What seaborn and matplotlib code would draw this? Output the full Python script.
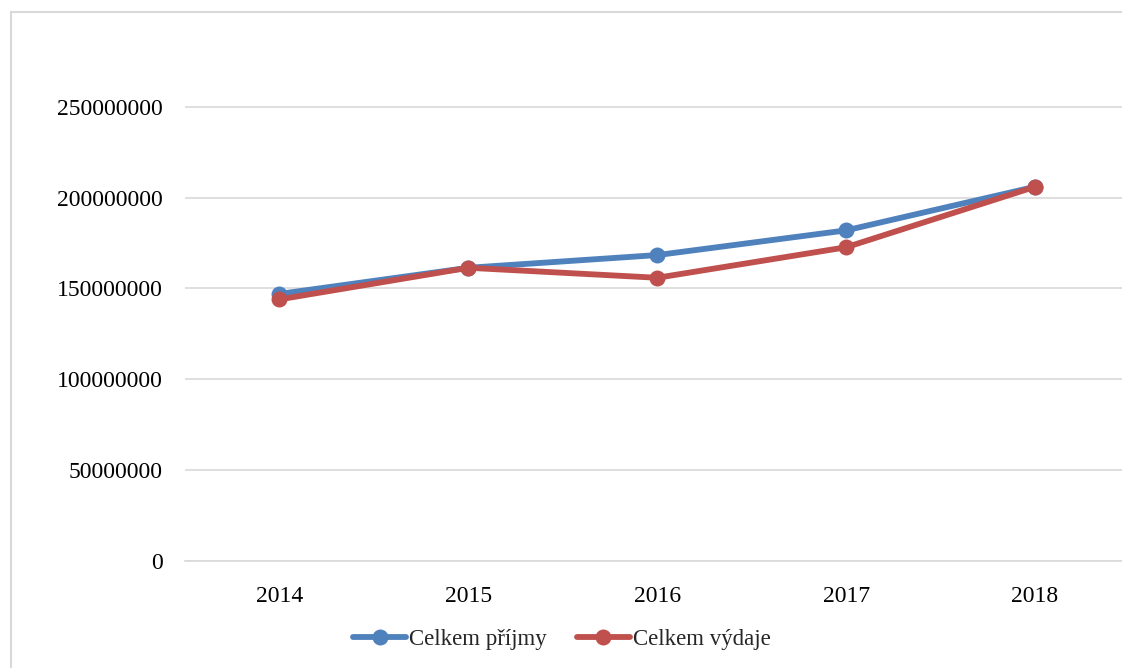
import pandas as pd
import matplotlib
matplotlib.use('Agg')
import matplotlib.pyplot as plt
import seaborn as sns
from matplotlib.patches import Rectangle

# Data
years = [2014, 2015, 2016, 2017, 2018]
prijmy = [146900000, 161300000, 168300000, 181900000, 205900000]
vydaje = [143900000, 161300000, 155800000, 172600000, 205900000]
series_names = ['Celkem příjmy', 'Celkem výdaje']
y_ticks = [0, 50000000, 100000000, 150000000, 200000000, 250000000]

df = pd.DataFrame({
    'year': years * 2,
    'value': prijmy + vydaje,
    'series': [series_names[0]] * len(years) + [series_names[1]] * len(years),
})

sns.set_theme(style='white')
plt.rcParams['font.family'] = ['Liberation Serif', 'DejaVu Serif']
plt.rcParams['font.size'] = 17

W, H = 1122, 668
fig = plt.figure(figsize=(W / 100, H / 100), dpi=100)
# plot area in pixel coordinates, converted to figure fractions
left_px, right_px = 185, 1129.5
zero_px, top_px = 560.7, 560.7 - 6 * 90.8
ax = fig.add_axes([left_px / W, 1 - zero_px / H, (right_px - left_px) / W, (zero_px - top_px) / H])

palette = {series_names[0]: '#4F81BD', series_names[1]: '#C0504D'}
sns.lineplot(data=df, x='year', y='value', hue='series', palette=palette,
             marker='o', markersize=11.5, markeredgewidth=0, linewidth=4.2,
             ax=ax, legend=False)

ax.set_xlim(years[0] - 0.5, years[-1] + 0.5)
ax.set_ylim(0, 300000000)
ax.set_xticks(years)
ax.set_xticklabels([str(y) for y in years])
ax.set_yticks(y_ticks)
ax.set_yticklabels([str(v) for v in y_ticks])
ax.yaxis.grid(True, color='#D9D9D9', linewidth=1.2)
ax.xaxis.grid(False)
ax.set_axisbelow(True)
for s in ['top', 'right', 'left']:
    ax.spines[s].set_visible(False)
ax.spines['bottom'].set_color('#D9D9D9')
ax.spines['bottom'].set_linewidth(1.2)
ax.tick_params(axis='y', length=0, pad=16, labelsize=17, colors='black')
ax.tick_params(axis='x', length=0, pad=18, labelsize=17, colors='black')
ax.set_xlabel('')
ax.set_ylabel('')

# legend at the bottom
handles = [plt.Line2D([], [], color=palette[n], linewidth=4.2, marker='o',
                      markersize=11.5, markeredgewidth=0) for n in series_names]
fig.legend(handles, series_names, loc='center', bbox_to_anchor=(562 / W, 1 - 639 / H),
           ncol=2, frameon=False, fontsize=16.5, handlelength=2.3, handletextpad=0.15,
           columnspacing=1.3)

# chart border
fig.patches.append(Rectangle((11 / W, -0.1), 1.2, 1 - 12.5 / H + 0.1,
                             transform=fig.transFigure, fill=False,
                             edgecolor='#D9D9D9', linewidth=1.5))

fig.savefig('out.png', dpi=100)
